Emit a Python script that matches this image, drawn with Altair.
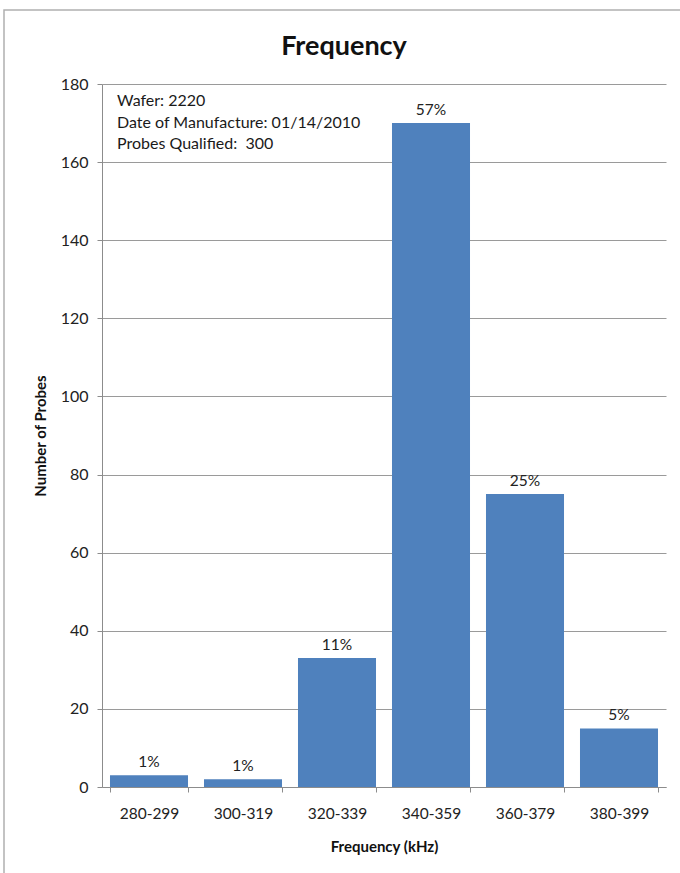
import altair as alt
import pandas as pd

categories = ["280-299", "300-319", "320-339", "340-359", "360-379", "380-399"]
counts = [3, 2, 33, 170, 75, 15]
pct_labels = ["1%", "1%", "11%", "57%", "25%", "5%"]
y_ticks = [0, 20, 40, 60, 80, 100, 120, 140, 160, 180]
info_lines = ["Wafer: 2220", "Date of Manufacture: 01/14/2010", "Probes Qualified:\u00a0\u00a0300"]
chart_title = "Frequency"

df = pd.DataFrame({"cat": categories, "count": counts, "pct": pct_labels})

FONT = "Lato"
W, H = 564, 703

x_enc = alt.X(
    "cat:N",
    sort=categories,
    scale=alt.Scale(paddingInner=0.17, paddingOuter=0.085),
    axis=alt.Axis(
        title="Frequency (kHz)",
        labelAngle=0,
        labelFontSize=15.5,
        labelColor="#222222",
        labelPadding=14,
        titleFontSize=15,
        titleFontWeight="bold",
        titleColor="#111111",
        titlePadding=18,
        tickBand="extent",
        tickColor="#8c8c8c",
        tickSize=5,
        domainColor="#8c8c8c",
        grid=False,
    ),
)

y_enc = alt.Y(
    "count:Q",
    scale=alt.Scale(domain=[0, 180], nice=False),
    axis=alt.Axis(
        title="Number of Probes",
        values=y_ticks,
        labelFontSize=16,
        labelColor="#222222",
        labelPadding=9,
        titleFontSize=15,
        titleFontWeight="bold",
        titleColor="#111111",
        titlePadding=12,
        tickColor="#8c8c8c",
        tickSize=5,
        domainColor="#8c8c8c",
        grid=True,
        gridColor="#9a9a9a",
        gridWidth=1,
    ),
)

bars = alt.Chart(df).mark_bar(color="#4F81BD").encode(x=x_enc, y=y_enc)

labels = alt.Chart(df).mark_text(
    baseline="bottom", dy=-5, fontSize=15.5, color="#222222", font=FONT
).encode(x=alt.X("cat:N", sort=categories), y="count:Q", text="pct:N")

info = alt.Chart(pd.DataFrame({"t": ["\n".join(info_lines)]})).mark_text(
    align="left", baseline="top", fontSize=16, color="#1a1a1a", font=FONT,
    lineBreak="\n", lineHeight=21.5
).encode(x=alt.value(15), y=alt.value(9), text="t:N")

title = alt.Chart(pd.DataFrame({"t": [chart_title]})).mark_text(
    align="center", baseline="alphabetic", fontSize=27, fontWeight="bold",
    color="#111111", font=FONT
).encode(x=alt.value(242), y=alt.value(-29), text="t:N")

border = alt.Chart(pd.DataFrame({"a": [0]})).mark_rect(
    fill=None, stroke="#b0b0b0", strokeWidth=1.5, clip=False
).encode(x=alt.value(-98), x2=alt.value(610), y=alt.value(-74), y2=alt.value(820))

chart = alt.layer(border, bars, labels, info, title).properties(
    width=W,
    height=H,
    padding={"left": 102, "top": 84, "right": 14, "bottom": 86},
    autosize=alt.AutoSizeParams(type="none"),
).configure(font=FONT, background="white").configure_view(stroke=None)

chart.save("out.html", embed_options={"renderer": "svg", "actions": False})
